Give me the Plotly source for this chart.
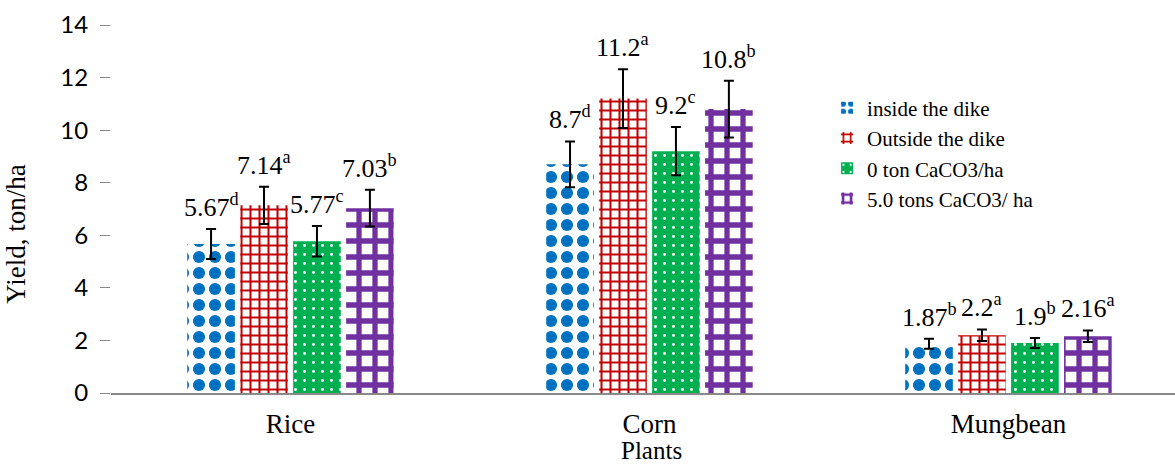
import plotly.graph_objects as go

categories = ["Rice", "Corn", "Mungbean"]
series_names = ["inside the dike", "Outside the dike", "0 ton CaCO3/ha", "5.0 tons CaCO3/ ha"]
inside_dike = [5.67, 8.7, 1.87]
outside_dike = [7.14, 11.2, 2.2]
caco3_0 = [5.77, 9.2, 1.9]
caco3_5 = [7.03, 10.8, 2.16]
inside_err = [0.57, 0.87, 0.19]
outside_err = [0.71, 1.12, 0.22]
caco3_0_err = [0.58, 0.92, 0.19]
caco3_5_err = [0.70, 1.08, 0.22]
inside_letters = ["d", "d", "b"]
outside_letters = ["a", "a", "a"]
caco3_0_letters = ["c", "c", "b"]
caco3_5_letters = ["b", "b", "a"]
y_ticks = [0, 2, 4, 6, 8, 10, 12, 14]

values = [inside_dike, outside_dike, caco3_0, caco3_5]
errors = [inside_err, outside_err, caco3_0_err, caco3_5_err]
letters = [inside_letters, outside_letters, caco3_0_letters, caco3_5_letters]

styles = [
    dict(shape=".", fgcolor="#0070C0", bgcolor="white", size=16, solidity=0.45),
    dict(shape="+", fgcolor="#C00000", bgcolor="white", size=9, solidity=0.4),
    dict(shape=".", fgcolor="white", bgcolor="#00B050", size=9, solidity=0.08),
    dict(shape="+", fgcolor="#7030A0", bgcolor="white", size=16, solidity=0.55),
]

xpos = list(range(len(categories)))
bargap = 0.41
n = len(values)
slot = (1 - bargap) / n

fig = go.Figure()
serif = "Liberation Serif, Times New Roman, serif"
for i in range(n):
    fig.add_trace(go.Bar(
        x=xpos, y=values[i], name=series_names[i],
        marker=dict(color=styles[i]["bgcolor"], line=dict(width=0),
                    pattern=dict(fgopacity=1, **styles[i])),
        error_y=dict(type="data", array=errors[i], color="black", thickness=2, width=5),
    ))
    for j in range(len(categories)):
        fig.add_annotation(
            x=xpos[j] + (i - (n - 1) / 2) * slot,
            y=values[i][j] + errors[i][j],
            text=f"{values[i][j]:g}<sup>{letters[i][j]}</sup>",
            showarrow=False, yanchor="bottom", yshift=5,
            font=dict(family=serif, size=26, color="black"),
        )

# axis titles as annotations (positioned like the reference)
fig.add_annotation(
    text="Yield, ton/ha", xref="paper", yref="paper", x=0, y=0.43,
    xanchor="center", yanchor="middle", xshift=-95, textangle=-90, showarrow=False,
    font=dict(family=serif, size=27, color="black"),
)
fig.add_annotation(
    text="Plants", xref="paper", yref="paper", x=0.508, y=0,
    xanchor="center", yanchor="middle", yshift=-57, showarrow=False,
    font=dict(family=serif, size=25, color="black"),
)

fig.update_layout(
    width=1175, height=464,
    margin=dict(l=111, r=0, t=25, b=71),
    paper_bgcolor="white", plot_bgcolor="white",
    barmode="group", bargap=bargap, bargroupgap=0.1,
    showlegend=True,
    legend=dict(x=0.673, y=0.83, xanchor="left", yanchor="top",
                font=dict(family=serif, size=21, color="black"),
                bgcolor="rgba(0,0,0,0)", itemwidth=30, tracegroupgap=0),
    xaxis=dict(range=[-0.5, 2.464], tickmode="array", tickvals=xpos, ticktext=categories,
               showline=True, linecolor="#898989", linewidth=2, automargin=False,
               ticks="outside", ticklen=6, tickcolor="rgba(0,0,0,0)",
               tickfont=dict(family=serif, size=27, color="black"),
               showgrid=False, zeroline=False),
    yaxis=dict(range=[0, 14], tickmode="array", tickvals=y_ticks, automargin=False,
               showline=False, ticks="outside", ticklen=10, tickcolor="#898989", tickwidth=1,
               ticklabelstandoff=7,
               tickfont=dict(family="Lato, Carlito, sans-serif", size=24, color="black"),
               showgrid=False, zeroline=False),
)

fig.write_html("out.html", config={"displayModeBar": False},
               post_script="document.body.style.margin='0';")
